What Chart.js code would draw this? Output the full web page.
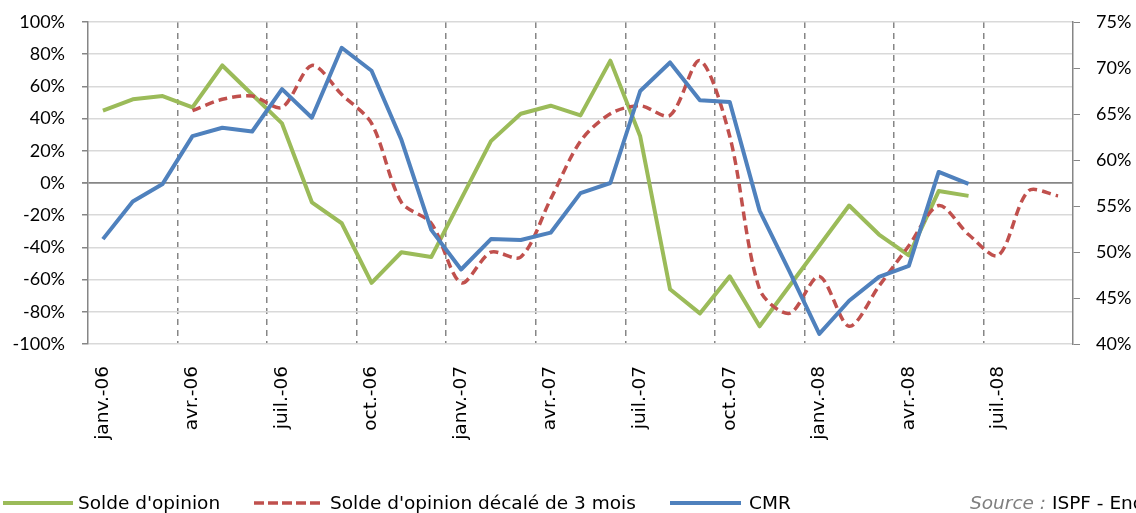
<!DOCTYPE html>
<html>
<head>
<meta charset="utf-8">
<script src="https://cdn.jsdelivr.net/npm/chart.js@4.4.0/dist/chart.umd.min.js"></script>
<style>
  body { margin: 0; background: #fff; overflow: hidden; }
  #wrap { position: relative; width: 1136px; height: 513px; overflow: hidden; }
  canvas { display: block; }
  .leg { position: absolute; top: 492px; font-family: "DejaVu Sans", sans-serif; font-size: 18.5px; line-height: 21px; color: #000; white-space: nowrap; }
  .legline { position: absolute; top: 498px; }
  .src-it { font-style: italic; color: #7f7f7f; }
</style>
</head>
<body>
<div id="wrap">
  <canvas id="chart" width="1136" height="513"></canvas>

  <svg class="legline" style="left:3px" width="70" height="10"><line x1="0" y1="5" x2="70" y2="5" stroke="#9bbb59" stroke-width="4"/></svg>
  <div class="leg" style="left:78px">Solde d'opinion</div>

  <svg class="legline" style="left:254px" width="68" height="10"><line x1="0" y1="5" x2="68" y2="5" stroke="#c0504d" stroke-width="3.5" stroke-dasharray="10,4"/></svg>
  <div class="leg" style="left:330px">Solde d'opinion décalé de 3 mois</div>

  <svg class="legline" style="left:670px" width="71" height="10"><line x1="0" y1="5" x2="71" y2="5" stroke="#4f81bd" stroke-width="4"/></svg>
  <div class="leg" style="left:749px">CMR</div>

  <div class="leg" style="left:970px"><span class="src-it">Source :</span> ISPF - Enquête de conjoncture</div>
</div>

<script>
// months janv.-06 .. sept.-08
const months = [
  "janv.-06", "févr.-06", "mars-06", "avr.-06", "mai-06", "juin-06",
  "juil.-06", "août-06", "sept.-06", "oct.-06", "nov.-06", "déc.-06",
  "janv.-07", "févr.-07", "mars-07", "avr.-07", "mai-07", "juin-07",
  "juil.-07", "août-07", "sept.-07", "oct.-07", "nov.-07", "déc.-07",
  "janv.-08", "févr.-08", "mars-08", "avr.-08", "mai-08", "juin-08",
  "juil.-08", "août-08", "sept.-08"
];

// solde d'opinion (%)
const solde = [
  45, 52, 54, 47, 73, 55, 37, -12, -25, -62, -43, -46,
  -10, 26, 43, 48, 42, 76, 29, -66, -81, -58, -89, -64,
  -39, -14, -32, -45, -5, -8, null, null, null
];

// solde d'opinion décalé de 3 mois (%)
const soldeDecale = [
  null, null, null, 45, 52, 54, 47, 73, 55, 37, -12, -25,
  -62, -43, -46, -10, 26, 43, 48, 42, 76, 29, -66, -81,
  -58, -89, -64, -39, -14, -32, -45, -5, -8
];

// CMR (%), axe de droite
const cmr = [
  51.4, 55.5, 57.4, 62.6, 63.5, 63.1, 67.7, 64.6, 72.2, 69.7, 62.2, 52.4,
  48.1, 51.4, 51.3, 52.1, 56.4, 57.5, 67.5, 70.6, 66.5, 66.3, 54.5, 47.9,
  41.1, 44.7, 47.3, 48.5, 58.7, 57.4, null, null, null
];

const axisGrey = "#868686";

// keep the y tick labels from pushing the plot area down
const noVPad = (scale, w) => {
  scale.width = w;
  scale.paddingTop = 0;
  scale.paddingBottom = 0;
};

const ctx = document.getElementById("chart").getContext("2d");

new Chart(ctx, {
  type: "line",
  data: {
    labels: months,
    datasets: [
      {
        label: "Solde d'opinion",
        data: solde,
        yAxisID: "y",
        borderColor: "#9bbb59",
        borderWidth: 4,
        pointRadius: 0,
        tension: 0,
        borderJoinStyle: "round",
        order: 2
      },
      {
        label: "Solde d'opinion décalé de 3 mois",
        data: soldeDecale,
        yAxisID: "y",
        borderColor: "#c0504d",
        borderWidth: 3.5,
        borderDash: [9, 5],
        pointRadius: 0,
        tension: 0.3,
        order: 1
      },
      {
        label: "CMR",
        data: cmr,
        yAxisID: "y1",
        borderColor: "#4f81bd",
        borderWidth: 4,
        pointRadius: 0,
        tension: 0,
        borderJoinStyle: "round",
        order: 0
      }
    ]
  },
  options: {
    responsive: false,
    animation: false,
    layout: { padding: { top: 22, left: 0, right: 0, bottom: 0 } },
    plugins: {
      legend: { display: false },
      tooltip: { enabled: false }
    },
    scales: {
      x: {
        offset: true,
        afterFit: (scale) => { scale.height = 169; },
        grid: {
          offset: true,
          drawTicks: false,
          lineWidth: 1.5,
          color: (c) => (c.index !== undefined && c.index > 0 && c.index % 3 === 0) ? axisGrey : "rgba(0,0,0,0)"
        },
        border: { display: false, dash: [6, 5] },
        ticks: {
          autoSkip: false,
          minRotation: 90,
          maxRotation: 90,
          padding: 22,
          color: "#000",
          font: { family: "DejaVu Sans", size: 18.5 },
          callback: function (value, index) {
            return index % 3 === 0 ? months[index] : "";
          }
        }
      },
      y: {
        position: "left",
        min: -100,
        max: 100,
        afterFit: (scale) => noVPad(scale, 88),
        grid: {
          lineWidth: (c) => (c.tick && c.tick.value === 0) ? 1.8 : 1.5,
          color: (c) => (c.tick && c.tick.value === 0) ? axisGrey : "#d9d9d9",
          tickColor: axisGrey,
          tickLength: 6
        },
        border: { display: true, color: axisGrey, width: 1.5 },
        ticks: {
          stepSize: 20,
          padding: 17,
          color: "#000",
          font: { family: "Lato", size: 18 },
          callback: (v) => v + "%"
        }
      },
      y1: {
        position: "right",
        min: 40,
        max: 75,
        afterFit: (scale) => noVPad(scale, 63),
        grid: {
          drawOnChartArea: false,
          tickColor: axisGrey,
          tickLength: 7
        },
        border: { display: true, color: axisGrey, width: 1.5 },
        ticks: {
          stepSize: 5,
          padding: 16,
          color: "#000",
          font: { family: "Lato", size: 18 },
          callback: (v) => v + "%"
        }
      }
    }
  }
});
</script>
</body>
</html>
